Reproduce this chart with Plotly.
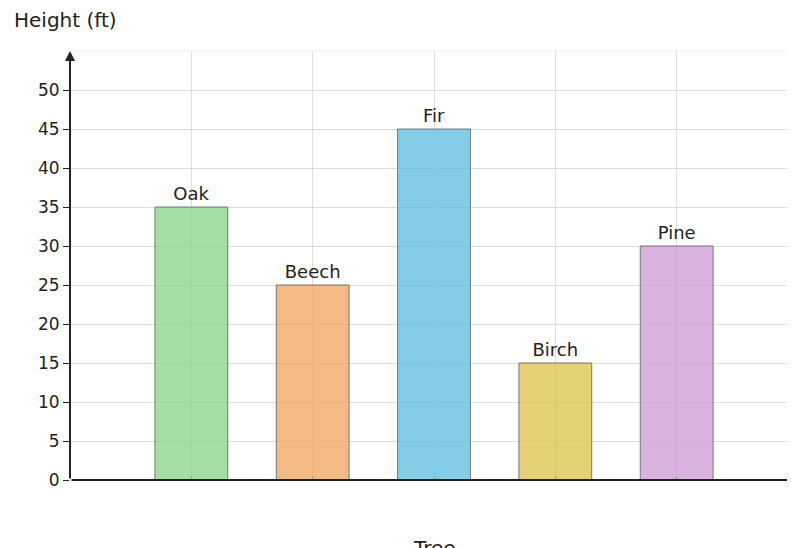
import plotly.graph_objects as go

trees = ["Oak", "Beech", "Fir", "Birch", "Pine"]
heights = [35, 25, 45, 15, 30]
colors = ["rgba(140,214,140,0.8)", "rgba(240,170,100,0.8)", "rgba(100,192,226,0.8)",
          "rgba(222,198,80,0.8)", "rgba(208,160,212,0.8)"]
yticks = [0, 5, 10, 15, 20, 25, 30, 35, 40, 45, 50]

fig = go.Figure(go.Bar(
    x=list(range(len(trees))), y=heights, width=0.6,
    marker=dict(color=colors, line=dict(color="#777", width=1)),
    text=trees, textposition="outside", textfont=dict(size=18, color="#222"),
    cliponaxis=False,
))
fig.update_layout(
    width=795, height=548, margin=dict(l=62, r=5, t=43, b=76),
    plot_bgcolor="white", paper_bgcolor="white",
    font=dict(family="DejaVu Sans", size=17, color="#222"),
    showlegend=False,
    xaxis=dict(range=[-1, 5], tickvals=list(range(len(trees))), ticktext=[""] * len(trees),
               showgrid=True, gridcolor="#ddd", zeroline=False, showline=False,
               ticks="inside", ticklen=4, tickcolor="#999"),
    yaxis=dict(range=[0, 55], tickvals=yticks, showgrid=True, gridcolor="#ddd",
               zeroline=False, showline=False, ticks="outside", ticklen=6, tickcolor="#222"),
    shapes=[dict(type="line", xref="paper", yref="paper", x0=1, x1=1, y0=0, y1=1,
                 line=dict(color="#ddd", width=1)),
            dict(type="line", xref="paper", yref="paper", x0=0, x1=1, y0=1, y1=1,
                 line=dict(color="#eee", width=1))],
    annotations=[
        dict(xref="x domain", yref="y domain", x=1.0, y=0, ax=0, ay=0,
             axref="x domain", ayref="y domain",
             showarrow=True, arrowhead=2, arrowsize=1, arrowwidth=2, arrowcolor="#222", text=""),
        dict(xref="x domain", yref="y domain", x=0, y=1.0, ax=0, ay=0,
             axref="x domain", ayref="y domain",
             showarrow=True, arrowhead=2, arrowsize=1, arrowwidth=2, arrowcolor="#222", text=""),
        dict(xref="paper", yref="paper", x=0.5, y=-0.125, yanchor="top", showarrow=False,
             text="Tree", font=dict(size=20)),
        dict(xref="paper", yref="paper", x=-0.08, y=1.04, xanchor="left", yanchor="bottom",
             showarrow=False, text="Height (ft)", font=dict(size=20)),
    ],
)
fig.write_html("out.html")
